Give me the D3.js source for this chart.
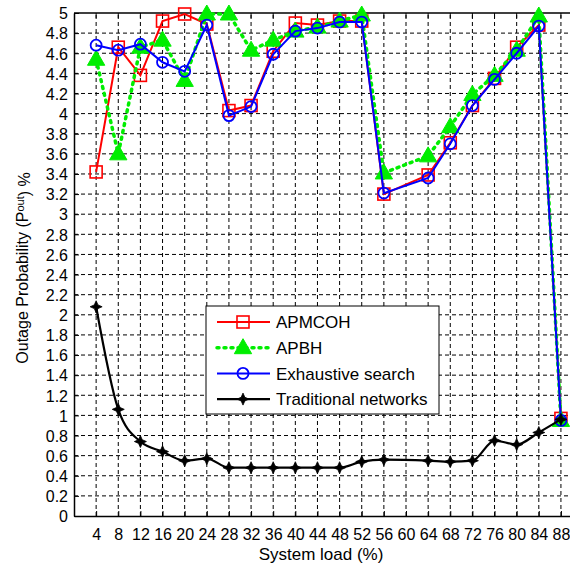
<!DOCTYPE html>
<html>
<head>
<meta charset="utf-8">
<script src="https://cdn.jsdelivr.net/npm/d3@7"></script>
<style>
  body { margin: 0; background: #fff; }
  text { font-family: "Liberation Sans", Arial, sans-serif; fill: #000; }
</style>
</head>
<body>
<svg id="chart" width="570" height="569"></svg>
<script>
// --- data ---
const loads = [4, 8, 12, 16, 20, 24, 28, 32, 36, 40, 44, 48, 52, 56, 64, 68, 72, 76, 80, 84, 88];
const apmcoh = [3.42, 4.66, 4.38, 4.92, 4.99, 4.89, 4.03, 4.08, 4.62, 4.90, 4.88, 4.92, 4.92, 3.20, 3.39, 3.71, 4.08, 4.35, 4.66, 4.88, 0.97];
const apbh = [4.54, 3.60, 4.66, 4.73, 4.33, 4.99, 4.99, 4.63, 4.73, 4.82, 4.86, 4.92, 4.98, 3.41, 3.58, 3.87, 4.19, 4.38, 4.63, 4.97, 0.95];
const exhaustive = [4.68, 4.63, 4.69, 4.51, 4.42, 4.88, 3.98, 4.07, 4.59, 4.82, 4.85, 4.91, 4.91, 3.21, 3.36, 3.70, 4.08, 4.34, 4.60, 4.87, 0.95];
const traditional = [2.08, 1.06, 0.74, 0.64, 0.55, 0.57, 0.48, 0.48, 0.48, 0.48, 0.48, 0.48, 0.54, 0.56, 0.55, 0.54, 0.55, 0.75, 0.71, 0.83, 0.96];
const xTicks = d3.range(4, 89, 4);
const yTicks = d3.range(0, 5.0001, 0.2).map(v => +v.toFixed(1));
const seriesNames = ["APMCOH", "APBH", "Exhaustive search", "Traditional networks"];

const svg = d3.select("#chart");

// plot frame
const x = d3.scaleLinear().domain([0, 90]).range([74, 572]);
const y = d3.scaleLinear().domain([0, 5]).range([516, 13]);

// dashed grid
const grid = svg.append("g");
grid.selectAll(".gx").data(xTicks).join("line")
    .attr("x1", d => x(d)).attr("x2", d => x(d))
    .attr("y1", y(0)).attr("y2", y(5))
    .attr("stroke", "#000").attr("stroke-width", 1)
    .attr("stroke-dasharray", "4 3");
grid.selectAll(".gy").data(yTicks.slice(1, -1)).join("line")
    .attr("x1", x(0)).attr("x2", x(90))
    .attr("y1", d => y(d)).attr("y2", d => y(d))
    .attr("stroke", "#000").attr("stroke-width", 1)
    .attr("stroke-dasharray", "4 3");

// axes (MATLAB style: inward ticks, top line)
const xAxis = svg.append("g")
    .attr("transform", `translate(0,${y(0)})`)
    .call(d3.axisBottom(x).tickValues(xTicks).tickSize(-5).tickPadding(13).tickSizeOuter(0));
const yAxis = svg.append("g")
    .attr("transform", `translate(${x(0)},0)`)
    .call(d3.axisLeft(y).tickValues(yTicks).tickSize(-5).tickPadding(6)
        .tickFormat(d => d3.format("~g")(d)).tickSizeOuter(0));
[xAxis, yAxis].forEach(a => {
    a.select(".domain").attr("stroke", "#000").attr("stroke-width", 1.5);
    a.selectAll("text").style("font-size", "16px").attr("fill", "#000");
});
yAxis.selectAll("text").attr("dy", "0.36em");
svg.append("line")
    .attr("x1", x(0)).attr("x2", x(90))
    .attr("y1", y(5)).attr("y2", y(5))
    .attr("stroke", "#000").attr("stroke-width", 1.5);
svg.append("g").selectAll("line").data(xTicks).join("line")
    .attr("x1", d => x(d)).attr("x2", d => x(d))
    .attr("y1", y(5)).attr("y2", y(5) + 5)
    .attr("stroke", "#000");

// axis titles
svg.append("text")
    .attr("x", 321).attr("y", 560)
    .attr("text-anchor", "middle")
    .style("font-size", "17px")
    .text("System load (%)");
const yl = svg.append("text")
    .attr("transform", `translate(28,${268}) rotate(-90)`)
    .attr("text-anchor", "middle")
    .style("font-size", "16px");
yl.append("tspan").text("Outage Probability (P");
yl.append("tspan").attr("dy", "-0.4em").style("font-size", "11px").text("out");
yl.append("tspan").attr("dy", "0.4em").text(") %");

// --- series ---
const styles = [
    { name: seriesNames[0], values: apmcoh, color: "#ff0000", dash: null, width: 2, sym: "square" },
    { name: seriesNames[1], values: apbh, color: "#00ee00", dash: "2 5", width: 3.5, sym: "triangle" },
    { name: seriesNames[2], values: exhaustive, color: "#0000ff", dash: null, width: 2, sym: "circle" },
    { name: seriesNames[3], values: traditional, color: "#000000", dash: null, width: 2.2, sym: "star" }
];

// 4-point star for the black series
const star4 = d3.lineRadial().curve(d3.curveLinearClosed)(
    d3.range(8).map(i => [i * Math.PI / 4, i % 2 ? 2.6 : 6]));

function drawMarker(g, s, cx, cy) {
    if (s.sym === "square") {
        g.append("rect").attr("x", cx - 6).attr("y", cy - 6).attr("width", 12).attr("height", 12)
            .attr("fill", "none").attr("stroke", s.color).attr("stroke-width", 1.6);
    } else if (s.sym === "triangle") {
        g.append("path").attr("transform", `translate(${cx},${cy + 1})`)
            .attr("d", d3.symbol(d3.symbolTriangle, 130)())
            .attr("fill", s.color).attr("stroke", s.color);
    } else if (s.sym === "circle") {
        g.append("circle").attr("cx", cx).attr("cy", cy).attr("r", 5.5)
            .attr("fill", "none").attr("stroke", s.color).attr("stroke-width", 1.8);
    } else {
        g.append("path").attr("transform", `translate(${cx},${cy})`)
            .attr("d", star4)
            .attr("fill", s.color).attr("stroke", s.color).attr("stroke-width", 0.8);
    }
}

styles.forEach((s, si) => {
    const pts = loads.map((l, i) => [l, s.values[i]]);
    const line = d3.line()
        .x(d => x(d[0])).y(d => y(d[1]))
        .curve(si === 3 ? d3.curveMonotoneX : d3.curveLinear);
    const g = svg.append("g");
    g.append("path")
        .attr("d", line(pts))
        .attr("fill", "none")
        .attr("stroke", s.color)
        .attr("stroke-width", s.width)
        .attr("stroke-linecap", s.dash ? "round" : "butt")
        .attr("stroke-dasharray", s.dash);
    pts.forEach(p => drawMarker(g, s, x(p[0]), y(p[1])));
});

// --- legend ---
const legend = svg.append("g");
legend.append("rect")
    .attr("x", 206).attr("y", 306).attr("width", 233).attr("height", 108)
    .attr("fill", "#fff").attr("stroke", "#000").attr("stroke-width", 1);
styles.forEach((s, i) => {
    const ly = 322 + i * 25.7;
    legend.append("line")
        .attr("x1", 217).attr("x2", 270).attr("y1", ly).attr("y2", ly)
        .attr("stroke", s.color).attr("stroke-width", s.width)
        .attr("stroke-linecap", s.dash ? "round" : "butt")
        .attr("stroke-dasharray", s.dash);
    drawMarker(legend, s, 243, ly);
    legend.append("text")
        .attr("x", 276).attr("y", ly).attr("dy", "0.36em")
        .style("font-size", "17px")
        .text(s.name);
});
</script>
</body>
</html>
